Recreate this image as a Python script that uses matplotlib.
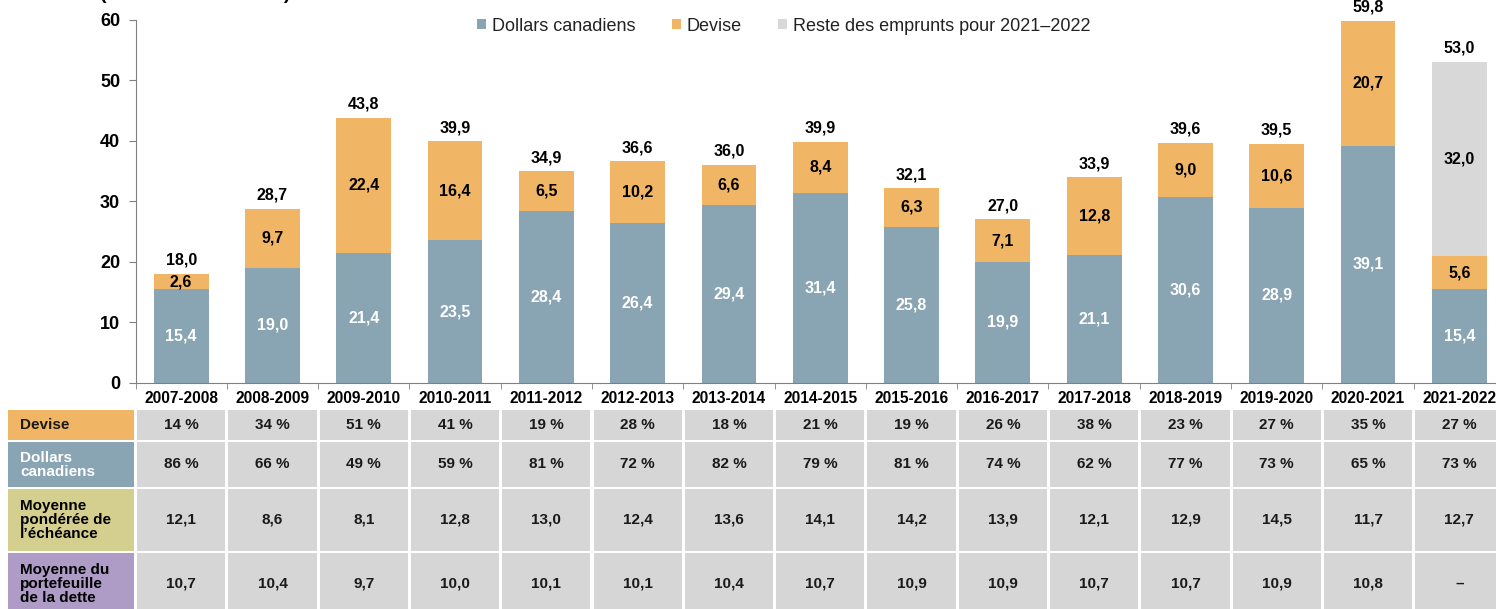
import matplotlib
matplotlib.use('Agg')
import matplotlib.pyplot as plt
from matplotlib.patches import Rectangle
import numpy as np

plt.rcParams['font.family'] = ['Liberation Sans', 'DejaVu Sans']

# --- data ---
years = ['2007-2008', '2008-2009', '2009-2010', '2010-2011', '2011-2012',
         '2012-2013', '2013-2014', '2014-2015', '2015-2016', '2016-2017',
         '2017-2018', '2018-2019', '2019-2020', '2020-2021', '2021-2022']
cad = [15.4, 19.0, 21.4, 23.5, 28.4, 26.4, 29.4, 31.4, 25.8, 19.9,
       21.1, 30.6, 28.9, 39.1, 15.4]
fx = [2.6, 9.7, 22.4, 16.4, 6.5, 10.2, 6.6, 8.4, 6.3, 7.1,
      12.8, 9.0, 10.6, 20.7, 5.6]
rest = [0, 0, 0, 0, 0, 0, 0, 0, 0, 0, 0, 0, 0, 0, 32.0]
totals = [18.0, 28.7, 43.8, 39.9, 34.9, 36.6, 36.0, 39.9, 32.1, 27.0,
          33.9, 39.6, 39.5, 59.8, 53.0]

fx_share = [14, 34, 51, 41, 19, 28, 18, 21, 19, 26, 38, 23, 27, 35, 27]
cad_share = [86, 66, 49, 59, 81, 72, 82, 79, 81, 74, 62, 77, 73, 65, 73]
avg_term_new = [12.1, 8.6, 8.1, 12.8, 13.0, 12.4, 13.6, 14.1, 14.2, 13.9,
                12.1, 12.9, 14.5, 11.7, 12.7]
avg_term_port = [10.7, 10.4, 9.7, 10.0, 10.1, 10.1, 10.4, 10.7, 10.9, 10.9,
                 10.7, 10.7, 10.9, 10.8, None]

row_labels = ['Devise', 'Dollars\ncanadiens', 'Moyenne\npondérée de\nl’échéance',
              'Moyenne du\nportefeuille\nde la dette']

C_CAD = '#89a5b3'
C_FX = '#f0b565'
C_REST = '#d8d8d8'
C_CELL = '#d6d6d6'
HEAD_COLORS = [C_FX, C_CAD, '#d4cf8e', '#ae9bc6']
HEAD_TEXT = ['#1a1a1a', 'white', 'black', 'black']

W, H = 1496, 609
fig = plt.figure(figsize=(W / 100, H / 100), dpi=100)

# main chart axes, placed in pixel terms
x0, step = 135.5, 91.3
y_top, y_bot = 19.5, 382.7
ax = fig.add_axes([x0 / W, 1 - y_bot / H, 15 * step / W, (y_bot - y_top) / H])
x = np.arange(len(years))
bw = 0.6
ax.bar(x, cad, bw, color=C_CAD, label='Dollars canadiens')
ax.bar(x, fx, bw, bottom=cad, color=C_FX, label='Devise')
ax.bar(x, rest, bw, bottom=np.array(cad) + np.array(fx), color=C_REST,
       label='Reste des emprunts pour 2021\u20132022')

def fmt(v):
    return f'{v:.1f}'.replace('.', ',')

lbl = dict(ha='center', fontsize=11.5, fontweight='bold')
for i in range(len(years)):
    ax.text(x[i], cad[i] / 2, fmt(cad[i]), va='center', color='white', **lbl)
    ax.text(x[i], cad[i] + fx[i] / 2, fmt(fx[i]), va='center', color='black', **lbl)
    if rest[i] > 0:
        ax.text(x[i], cad[i] + fx[i] + rest[i] / 2, fmt(rest[i]), va='center',
                color='black', **lbl)
    ax.text(x[i], totals[i] + 1.0, fmt(totals[i]), va='bottom', color='black', **lbl)

ax.set_xlim(-0.5, 14.5)
ax.set_ylim(0, 60)
ax.set_yticks(range(0, 61, 10))
ax.tick_params(axis='y', labelsize=13, length=5, color='#808080', pad=6)
for lab in ax.get_yticklabels():
    lab.set_fontweight('bold')
ax.set_xticks(x)
ax.set_xticklabels(years, fontsize=11.2, fontweight='bold')
ax.tick_params(axis='x', length=0, pad=6)
ax.set_xticks(np.arange(-0.5, 15, 1), minor=True)
ax.tick_params(axis='x', which='minor', length=4, color='#808080', direction='out')
for s in ['top', 'right']:
    ax.spines[s].set_visible(False)
ax.spines['left'].set_color('#808080')
ax.spines['bottom'].set_color('#808080')

leg = ax.legend(loc='center', bbox_to_anchor=(0.4735, 0.982), ncol=3, frameon=False,
                fontsize=13, handlelength=0.5, handleheight=0.5,
                handletextpad=0.33, columnspacing=2.0, borderaxespad=0.0)
for t in leg.get_texts():
    t.set_color('#222222')

fig.text(100 / W, 1 + 1 / H, '(milliards de dollars)', fontsize=14,
         fontweight='bold', va='baseline', ha='left')

# table below, same x units as the chart
tab = fig.add_axes([0, 0, 1, 1])
tab.set_xlim(-0.5 - x0 / step, -0.5 + (W - x0) / step)
tab.set_ylim(H, 0)
tab.axis('off')
tab.set_zorder(-1)

rows_y = [(410, 440), (442, 487), (489, 551), (553, 615)]
head_left = -0.5 - (x0 - 8) / step
gap = 1.5 / step
rows_data = [[f'{v} %' for v in fx_share],
             [f'{v} %' for v in cad_share],
             [fmt(v) for v in avg_term_new],
             [fmt(v) if v is not None else '\u2013' for v in avg_term_port]]

for r, (ya, yb) in enumerate(rows_y):
    tab.add_patch(Rectangle((head_left, ya), -0.5 - gap - head_left, yb - ya,
                            color=HEAD_COLORS[r], lw=0))
    tab.text(head_left + 12 / step, (ya + yb) / 2, row_labels[r], ha='left',
             va='center', fontsize=11, fontweight='bold', color=HEAD_TEXT[r],
             linespacing=1.0)
    for i in range(len(years)):
        tab.add_patch(Rectangle((i - 0.5 + gap, ya), 1 - 2 * gap, yb - ya,
                                color=C_CELL, lw=0))
        tab.text(i, (ya + yb) / 2, rows_data[r][i], ha='center', va='center',
                 fontsize=11, fontweight='bold', color='#1a1a1a')

fig.savefig('out.png', dpi=100)
